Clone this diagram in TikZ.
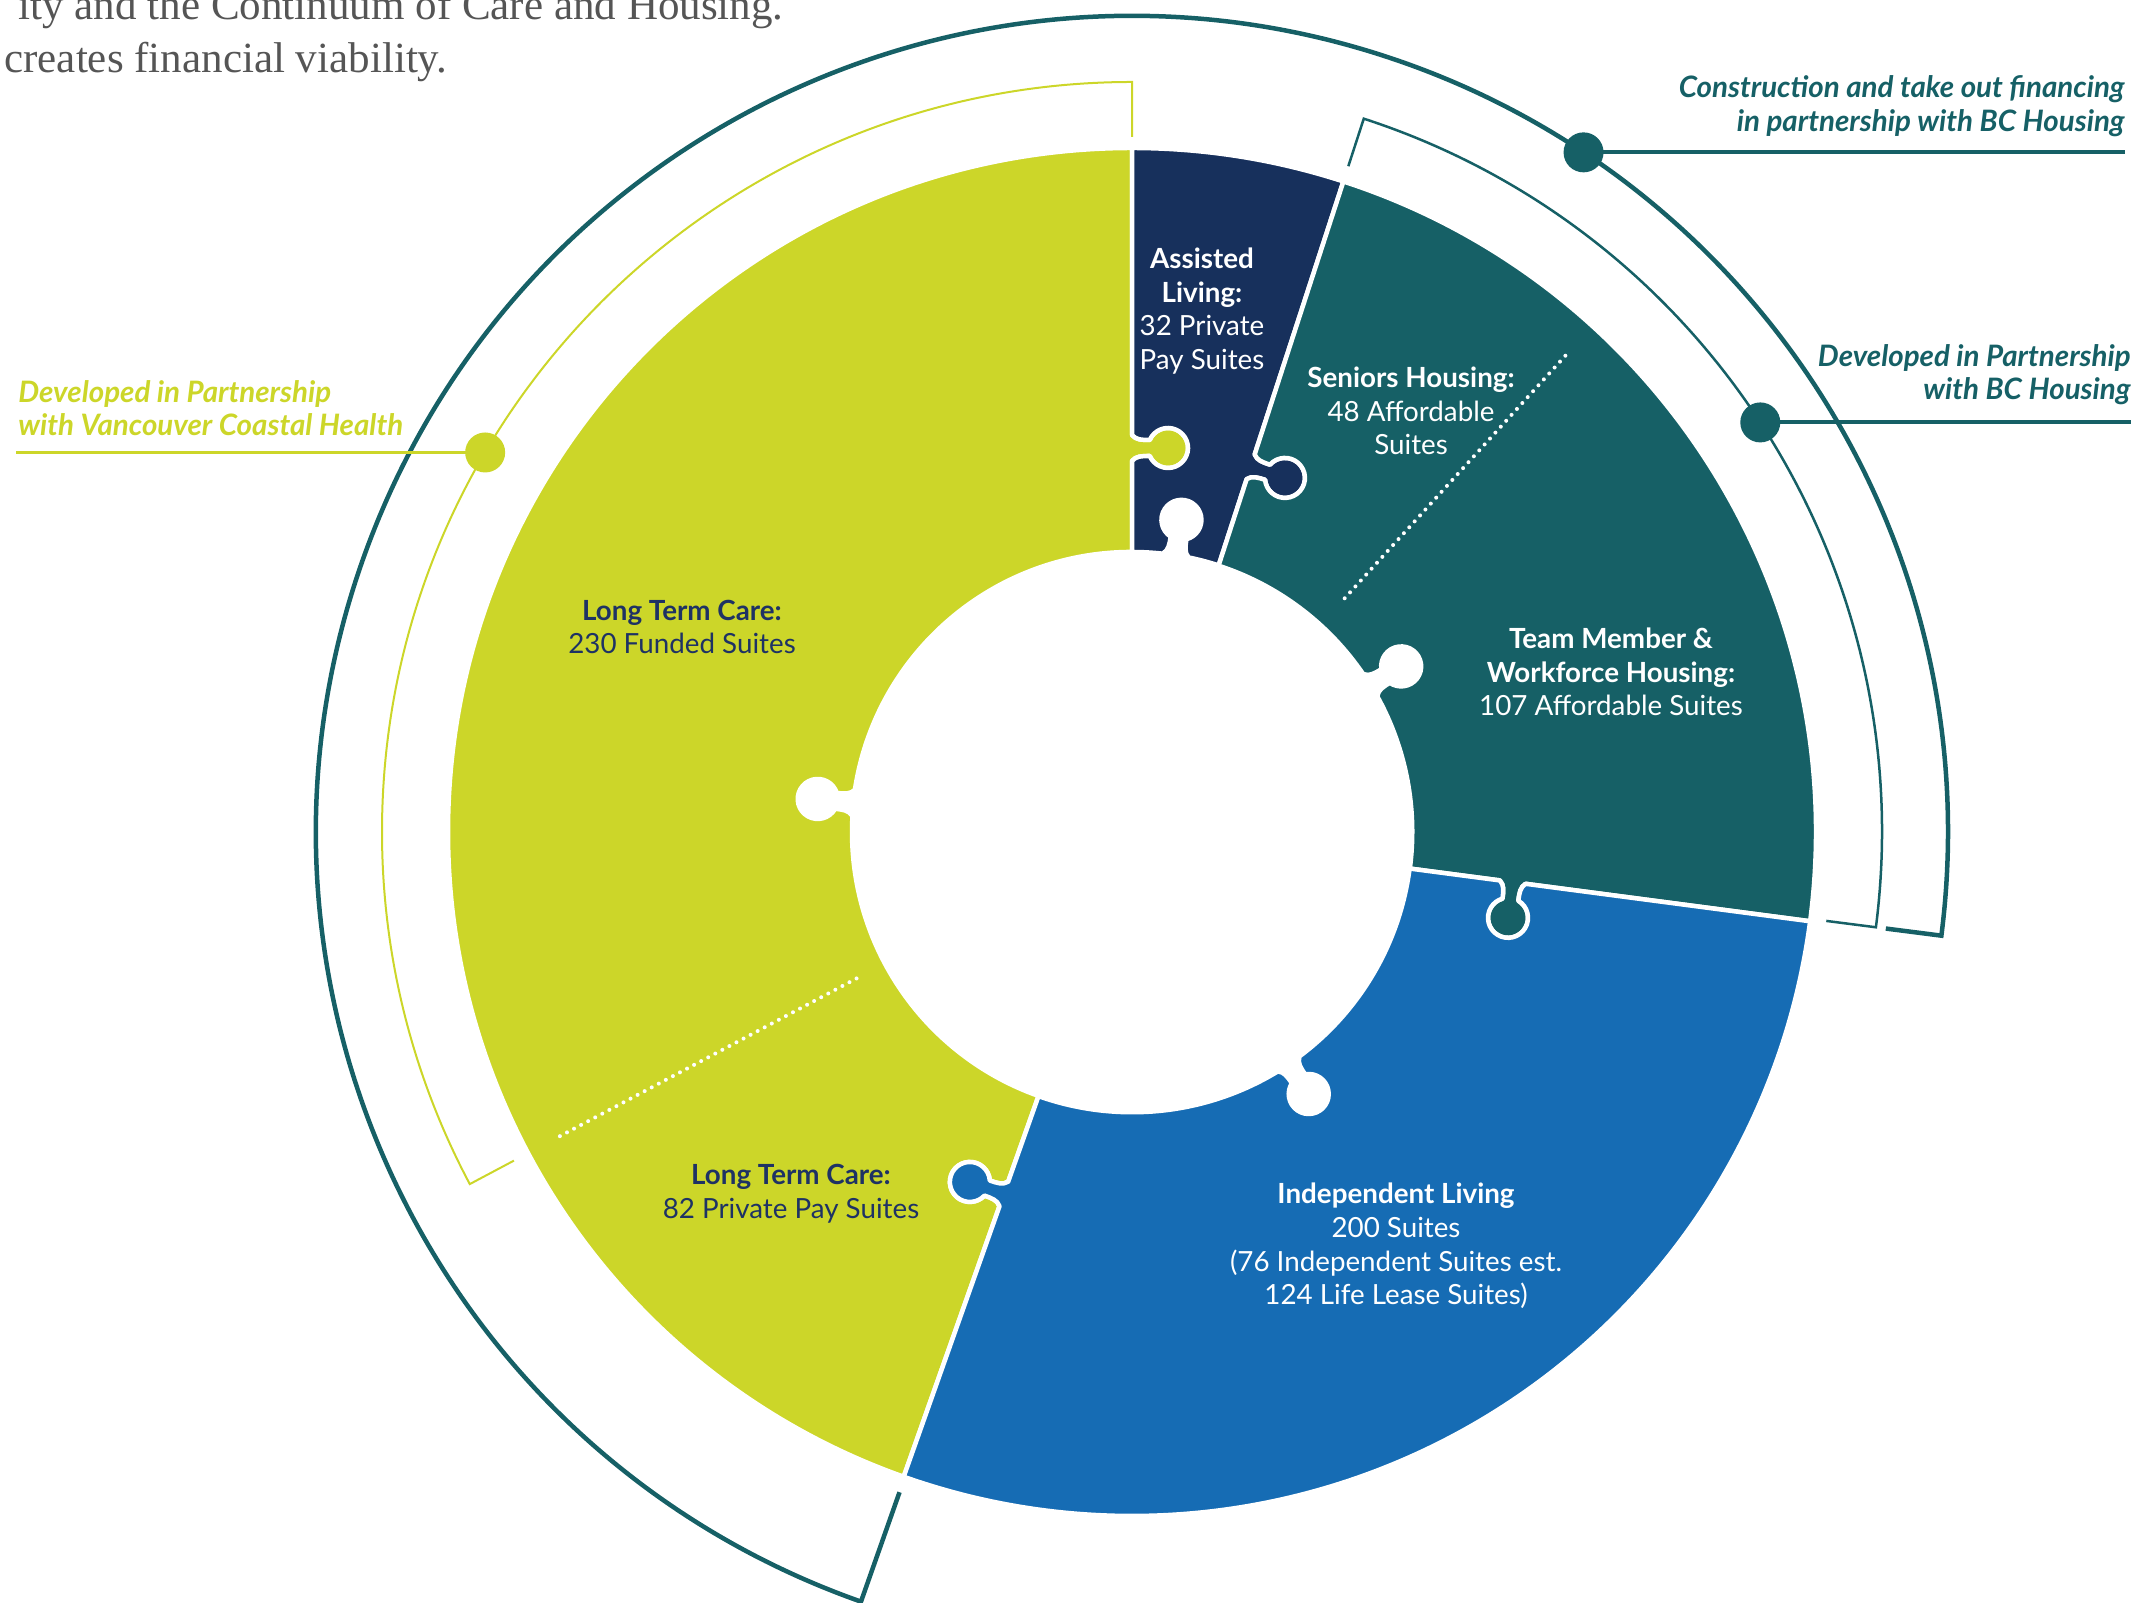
\documentclass[tikz,border=0pt]{standalone}
\usepackage{fontspec}
\setmainfont{Lato}
\newfontfamily\serifface{Liberation Serif}
\usetikzlibrary{calc}
\definecolor{limec}{RGB}{204,214,41}
\definecolor{navyp}{RGB}{23,48,92}
\definecolor{tealp}{RGB}{22,96,102}
\definecolor{bluep}{RGB}{22,108,180}
\definecolor{navytext}{RGB}{30,50,100}
\definecolor{graytext}{RGB}{85,85,85}
% knob protruding to the right of the direction of travel #2, based at coordinate #1
\newcommand\knobR[2]{-- ($(#1)+({#2}:-13)$) .. controls ($(#1)+({#2}:-8)+({#2-90}:4)$) and ($(#1)+({#2}:-8)+({#2-90}:10)$) .. ($(#1)+({#2}:-8)+({#2-90}:17.7)$) arc[start angle={#2+113.6}, delta angle=312.8, radius=20] .. controls ($(#1)+({#2}:8)+({#2-90}:10)$) and ($(#1)+({#2}:8)+({#2-90}:4)$) .. ($(#1)+({#2}:13)$)}
% knob protruding to the left of the direction of travel
\newcommand\knobL[2]{-- ($(#1)+({#2}:-13)$) .. controls ($(#1)+({#2}:-8)+({#2+90}:4)$) and ($(#1)+({#2}:-8)+({#2+90}:10)$) .. ($(#1)+({#2}:-8)+({#2+90}:17.7)$) arc[start angle={#2-113.6}, delta angle=-312.8, radius=20] .. controls ($(#1)+({#2}:8)+({#2+90}:10)$) and ($(#1)+({#2}:8)+({#2+90}:4)$) .. ($(#1)+({#2}:13)$)}
\tikzset{
  piece/.style={draw=white, line width=0.09cm, line join=round},
  dotline/.style={draw=white, line width=0.08cm, line cap=round, dash pattern=on 0pt off 0.16cm},
  bigarc/.style={draw=tealp, line width=0.09cm},
  thinteal/.style={draw=tealp, line width=0.05cm},
  thinlime/.style={draw=limec, line width=0.04cm},
  tealrule/.style={draw=tealp, line width=0.08cm},
  limerule/.style={draw=limec, line width=0.05cm},
  dotmark/.style={circle, inner sep=0pt, minimum size=0.8cm},
  lbl/.style={align=center, font=\fontsize{15.8}{19.2}\selectfont, inner sep=0pt},
  note/.style={font=\fontsize{16.8}{18}\selectfont\bfseries\itshape, inner sep=0pt},
  prose/.style={font=\serifface\fontsize{24.5}{28}\selectfont, text=graytext, inner sep=0pt},
}
\begin{document}
\begin{tikzpicture}[x=0.02cm, y=0.02cm]
\useasboundingbox (0,0) rectangle (2139,1602);
\coordinate (C) at (1132,770);
\coordinate (kA) at ($(C)+(90:384)$);
\coordinate (kB) at ($(C)+(72:384)$);
\coordinate (kC) at ($(C)+(-7.5:384)$);
\coordinate (kD) at ($(C)+(250.5:384)$);
\coordinate (iN) at ($(C)+(81:280)$);
\coordinate (iT) at ($(C)+(31.6:280)$);
\coordinate (iB) at ($(C)+(304:280)$);
\coordinate (iL) at ($(C)+(174:280)$);

% outer brackets
\draw[bigarc] ($(C)+(250.6:700)$) -- ($(C)+(250.6:816)$) arc[start angle=250.6, end angle=-7.3, radius=816] -- ($(C)+(-7.3:760)$);
\draw[thinteal] ($(C)+(72:700)$) -- ($(C)+(72:750)$) arc[start angle=72, end angle=-7.3, radius=750] -- ($(C)+(-7.3:700)$);
\draw[thinlime] ($(C)+(90:695)$) -- ($(C)+(90:750)$) arc[start angle=90, end angle=208, radius=750] -- ($(C)+(208:700)$);

% puzzle pieces
\path[piece, fill=limec] ($(C)+(90:280)$) \knobR{kA}{90} -- ($(C)+(90:684)$) arc[start angle=90, end angle=250.5, radius=684] \knobL{kD}{430.5} -- ($(C)+(250.5:280)$) arc[start angle=250.5, end angle=176.66, radius=280] \knobL{iL}{84} arc[start angle=171.34, end angle=90, radius=280] -- cycle;
\path[piece, fill=navyp] ($(C)+(72:280)$) \knobR{kB}{72} -- ($(C)+(72:684)$) arc[start angle=72, end angle=90, radius=684] \knobL{kA}{270} -- ($(C)+(90:280)$) arc[start angle=90, end angle=83.66, radius=280] \knobL{iN}{-9} arc[start angle=78.34, end angle=72, radius=280] -- cycle;
\path[piece, fill=tealp] ($(C)+(-7.5:280)$) \knobR{kC}{-7.5} -- ($(C)+(-7.5:684)$) arc[start angle=-7.5, end angle=72, radius=684] \knobL{kB}{252} -- ($(C)+(72:280)$) arc[start angle=72, end angle=34.26, radius=280] \knobL{iT}{-58.4} arc[start angle=28.94, end angle=-7.5, radius=280] -- cycle;
\path[piece, fill=bluep] ($(C)+(250.5:280)$) \knobR{kD}{250.5} -- ($(C)+(250.5:684)$) arc[start angle=250.5, end angle=352.5, radius=684] \knobL{kC}{172.5} -- ($(C)+(352.5:280)$) arc[start angle=352.5, end angle=306.66, radius=280] \knobL{iB}{214} arc[start angle=301.34, end angle=250.5, radius=280] -- cycle;

% dotted dividers
\coordinate (dl1) at ($(C)+(208:312)$);
\coordinate (dl2) at ($(C)+(208:650)$);
\coordinate (dt1) at ($(C)+(47.7:316)$);
\coordinate (dt2) at ($(C)+(47.7:649)$);
\draw[dotline] (dl1) -- (dl2);
\draw[dotline] (dt1) -- (dt2);

% callout dots and rules
\node[dotmark, fill=tealp] (d1) at ($(C)+(56.4:816)$) {};
\node[dotmark, fill=tealp] (d2) at ($(C)+(33.1:750)$) {};
\node[dotmark, fill=limec] (d3) at ($(C)+(149.6:750)$) {};
\coordinate (e1) at (2125,1450);
\coordinate (e2) at (2131,1180);
\coordinate (e3) at (16,1150);
\draw[tealrule] (d1.center) -- (d1.center -| e1);
\draw[tealrule] (d2.center) -- (d2.center -| e2);
\draw[limerule] (d3.center) -- (d3.center -| e3);

% callout texts
\node[note, text=limec, anchor=base west] (n1a) at (18,1199) {Developed in Partnership};
\node[note, text=limec, anchor=base west] (n1b) at (18,1166) {with Vancouver Coastal Health};
\node[note, text=tealp, anchor=base east] (n2a) at (2125,1504) {Construction and take out financing};
\node[note, text=tealp, anchor=base east] (n2b) at (2125,1470) {in partnership with BC Housing};
\node[note, text=tealp, anchor=base east] (n3a) at (2131,1235) {Developed in Partnership};
\node[note, text=tealp, anchor=base east] (n3b) at (2131,1202) {with BC Housing};

% segment labels
\node[lbl, text=navytext] (ltc1) at (682,975) {\textbf{Long Term Care:}\\230 Funded Suites};
\node[lbl, text=navytext] (ltc2) at (791,408) {\textbf{Long Term Care:}\\82 Private Pay Suites};
\node[lbl, text=white] (al) at (1202,1291) {\textbf{Assisted}\\\textbf{Living:}\\32 Private\\Pay Suites};
\node[lbl, text=white] (sh) at (1411,1191) {\textbf{Seniors Housing:}\\48 Affordable\\Suites};
\node[lbl, text=white] (tm) at (1611,930) {\textbf{Team Member \&}\\\textbf{Workforce Housing:}\\107 Affordable Suites};
\node[lbl, text=white] (il) at (1396,356) {\textbf{Independent Living}\\200 Suites\\(76 Independent Suites est.\\124 Life Lease Suites)};

% prose fragment
\node[prose, anchor=base east] (t1) at (784,1582) {ity and the Continuum of Care and Housing.};
\node[prose, anchor=base west] (t2) at (4,1529) {creates financial viability.};
\end{tikzpicture}
\end{document}
